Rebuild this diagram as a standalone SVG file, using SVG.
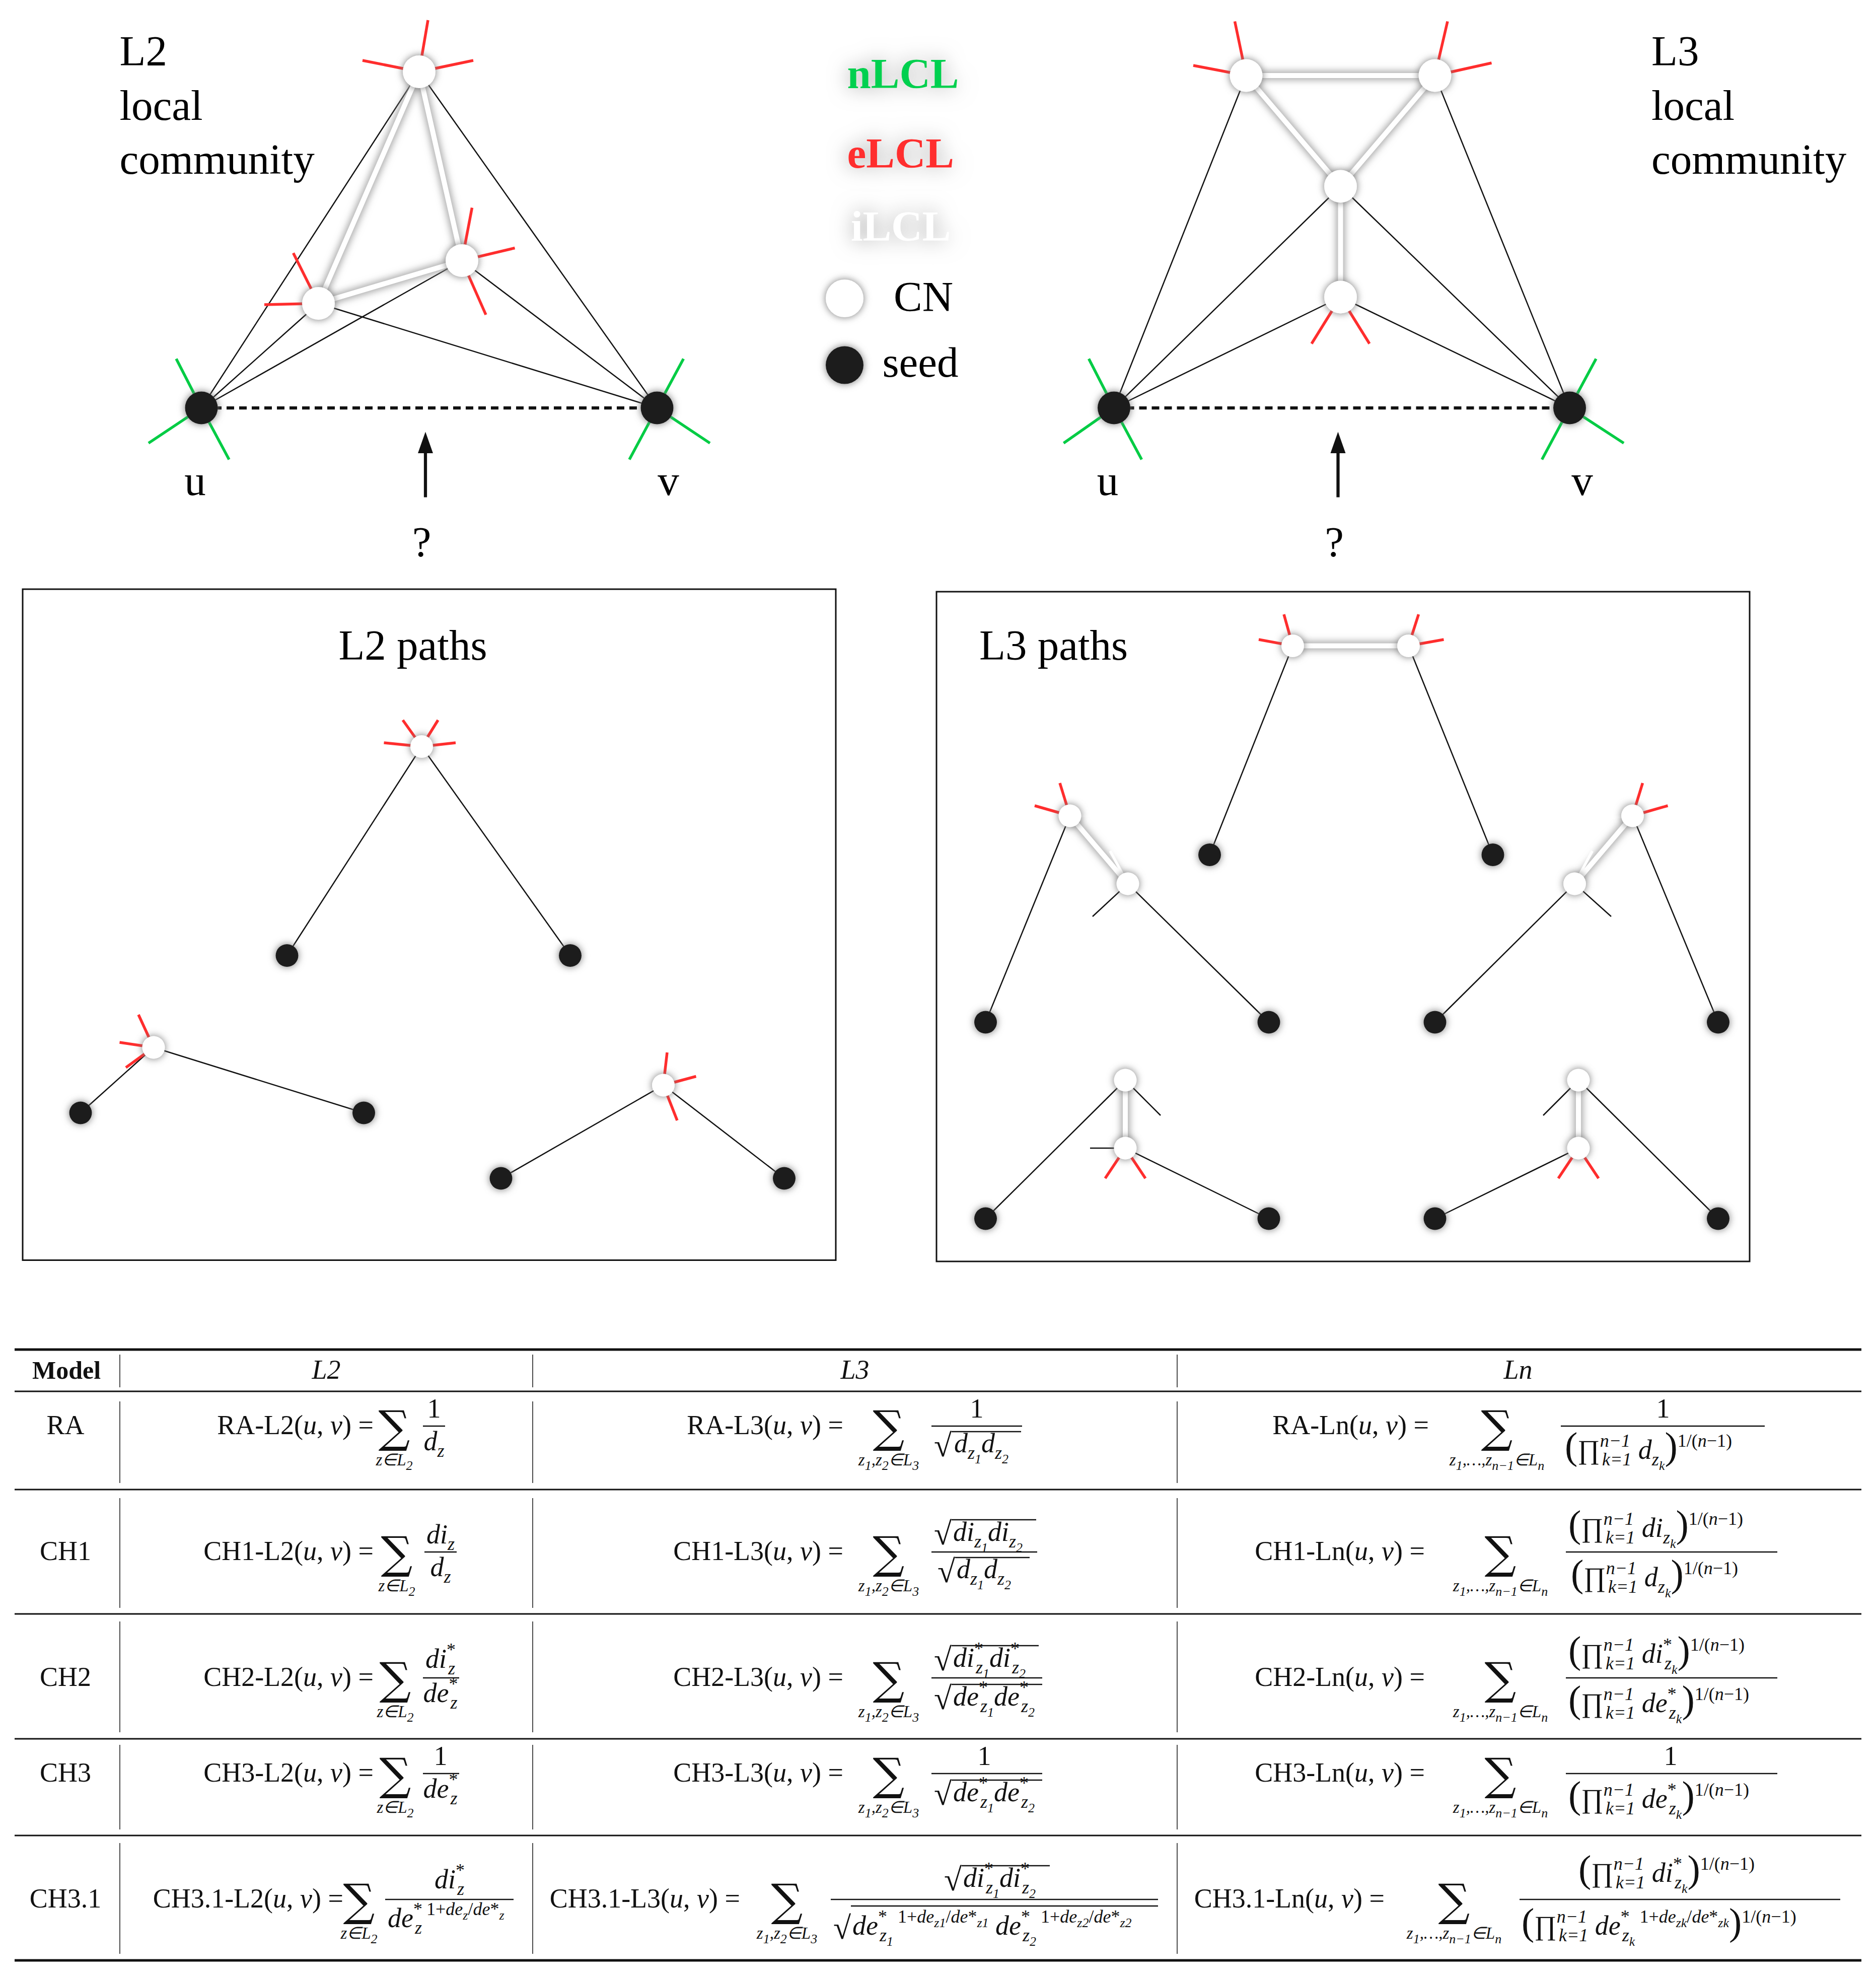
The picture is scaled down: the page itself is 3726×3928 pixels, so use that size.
<svg xmlns="http://www.w3.org/2000/svg" width="3726" height="3928" viewBox="0 0 3726 3928">
<style>
.lbl{font-family:"Liberation Serif",serif;font-size:34px;fill:#000}
.leg{font-family:"Liberation Serif",serif;font-size:34px;font-weight:bold}
.e{stroke:#111;stroke-width:1;fill:none}
.wg{stroke:#999;stroke-width:6;fill:none;filter:url(#blur)}
.w{stroke:#fff;stroke-width:4;fill:none}
.r{stroke:#ff2d2d;stroke-width:2.2}
.gr{stroke:#00cc44;stroke-width:2.2}
.wt{stroke:#fff;stroke-width:2.2}
.bt{stroke:#111;stroke-width:1}
.cn{fill:#fff;filter:url(#sh)}
.sd{fill:#1a1a1a;filter:url(#sh)}
.f{font-family:"Liberation Serif",serif;font-size:54px;fill:#111}
.c{text-anchor:middle}
.en{text-anchor:end}
.i{font-style:italic}
.sb{font-size:36px;baseline-shift:-13px}
.sp{font-size:36px;baseline-shift:24px}
.sb2{font-size:26px;baseline-shift:-9px}
.sum{font-family:"DejaVu Serif",serif;font-size:88px;text-anchor:middle}
.ss{font-family:"Liberation Serif",serif;font-size:33px;font-style:italic;text-anchor:middle}
.bar{stroke:#111;stroke-width:2.5}
.rule{stroke:#111;stroke-width:5}
.col{stroke:#111;stroke-width:1.5}
.par{font-size:76px}
</style>
<defs>
<filter id="blur" filterUnits="userSpaceOnUse" x="0" y="0" width="1500" height="1100"><feGaussianBlur stdDeviation="3"/></filter>
<filter id="sh" x="-50%" y="-50%" width="200%" height="200%"><feDropShadow dx="0" dy="0" stdDeviation="3" flood-color="#777"/></filter>
<filter id="tg" x="-30%" y="-80%" width="160%" height="260%"><feGaussianBlur in="SourceAlpha" stdDeviation="8" result="b"/><feFlood flood-color="#999"/><feComposite in2="b" operator="in" result="s"/><feMerge><feMergeNode in="s"/><feMergeNode in="SourceGraphic"/></feMerge></filter>
</defs>
<rect width="3726" height="3928" fill="#fff"/>
<g transform="scale(2.5)">
<g id="connectors">
<line class="e" x1="160" y1="324" x2="333" y2="57"/><line class="e" x1="160" y1="324" x2="253" y2="241"/><line class="e" x1="160" y1="324" x2="367" y2="207"/>
<line class="e" x1="522" y1="324" x2="333" y2="57"/><line class="e" x1="522" y1="324" x2="253" y2="241"/><line class="e" x1="522" y1="324" x2="367" y2="207"/>
<path class="wg" d="M333,57 L253,241 L367,207 Z"/><path class="w" d="M333,57 L253,241 L367,207 Z"/>
<line x1="160" y1="324" x2="522" y2="324" stroke="#111" stroke-width="2.5" stroke-dasharray="6,4"/>
<line x1="338" y1="395" x2="338" y2="355" stroke="#111" stroke-width="2.5"/><polygon points="332,360 338,343 344,360" fill="#111"/>
<line class="e" x1="885" y1="324" x2="990" y2="60"/><line class="e" x1="885" y1="324" x2="1065" y2="148"/><line class="e" x1="885" y1="324" x2="1065" y2="236"/>
<line class="e" x1="1247" y1="324" x2="1140" y2="60"/><line class="e" x1="1247" y1="324" x2="1065" y2="148"/><line class="e" x1="1247" y1="324" x2="1065" y2="236"/>
<path class="wg" d="M990,60 L1140,60 L1065,148 Z M1065,148 L1065,236"/><path class="w" d="M990,60 L1140,60 L1065,148 Z M1065,148 L1065,236"/>
<line x1="885" y1="324" x2="1247" y2="324" stroke="#111" stroke-width="2.5" stroke-dasharray="6,4"/>
<line x1="1063" y1="395" x2="1063" y2="355" stroke="#111" stroke-width="2.5"/><polygon points="1057,360 1063,343 1069,360" fill="#111"/>
<line class="e" x1="228" y1="759" x2="335" y2="593"/><line class="e" x1="453" y1="759" x2="335" y2="593"/>
<line class="e" x1="64" y1="884" x2="122" y2="832"/><line class="e" x1="289" y1="884" x2="122" y2="832"/>
<line class="e" x1="398" y1="936" x2="527" y2="862"/><line class="e" x1="623" y1="936" x2="527" y2="862"/>
<line class="e" x1="961" y1="679" x2="1027" y2="513"/><line class="e" x1="1186" y1="679" x2="1119" y2="513"/>
<path class="wg" d="M1027,513 L1119,513"/><path class="w" d="M1027,513 L1119,513"/>
<line class="e" x1="783" y1="812" x2="850" y2="648"/><line class="e" x1="1008" y1="812" x2="896" y2="702"/>
<path class="wg" d="M850,648 L896,702"/><path class="w" d="M850,648 L896,702"/>
<line class="e" x1="1365" y1="812" x2="1297" y2="648"/><line class="e" x1="1140" y1="812" x2="1251" y2="702"/>
<path class="wg" d="M1297,648 L1251,702"/><path class="w" d="M1297,648 L1251,702"/>
<line class="e" x1="783" y1="968" x2="894" y2="858"/><line class="e" x1="1008" y1="968" x2="894" y2="912"/>
<path class="wg" d="M894,858 L894,912"/><path class="w" d="M894,858 L894,912"/>
<line class="e" x1="1365" y1="968" x2="1254" y2="858"/><line class="e" x1="1140" y1="968" x2="1254" y2="912"/>
<path class="wg" d="M1254,858 L1254,912"/><path class="w" d="M1254,858 L1254,912"/>
</g>
<g id="ticks">
<line class="r" x1="333" y1="57" x2="340" y2="16"/><line class="r" x1="333" y1="57" x2="288" y2="48"/><line class="r" x1="333" y1="57" x2="376" y2="48"/>
<line class="r" x1="253" y1="241" x2="233" y2="201"/><line class="r" x1="253" y1="241" x2="210" y2="242"/>
<line class="r" x1="367" y1="207" x2="375" y2="165"/><line class="r" x1="367" y1="207" x2="409" y2="197"/><line class="r" x1="367" y1="207" x2="386" y2="250"/>
<line class="gr" x1="160" y1="324" x2="140" y2="285"/><line class="gr" x1="160" y1="324" x2="118" y2="352"/><line class="gr" x1="160" y1="324" x2="182" y2="365"/>
<line class="gr" x1="522" y1="324" x2="543" y2="285"/><line class="gr" x1="522" y1="324" x2="564" y2="352"/><line class="gr" x1="522" y1="324" x2="500" y2="365"/>
<line class="r" x1="990" y1="60" x2="981" y2="17"/><line class="r" x1="990" y1="60" x2="948" y2="52"/>
<line class="r" x1="1140" y1="60" x2="1150" y2="17"/><line class="r" x1="1140" y1="60" x2="1185" y2="50"/>
<line class="r" x1="1065" y1="236" x2="1042" y2="273"/><line class="r" x1="1065" y1="236" x2="1088" y2="273"/>
<line class="gr" x1="885" y1="324" x2="865" y2="285"/><line class="gr" x1="885" y1="324" x2="845" y2="352"/><line class="gr" x1="885" y1="324" x2="907" y2="365"/>
<line class="gr" x1="1247" y1="324" x2="1268" y2="285"/><line class="gr" x1="1247" y1="324" x2="1290" y2="352"/><line class="gr" x1="1247" y1="324" x2="1225" y2="365"/>
<line class="r" x1="335" y1="593" x2="320" y2="572"/><line class="r" x1="335" y1="593" x2="305" y2="590"/><line class="r" x1="335" y1="593" x2="348" y2="572"/><line class="r" x1="335" y1="593" x2="362" y2="590"/>
<line class="wt" x1="335" y1="593" x2="330" y2="622"/><line class="wt" x1="335" y1="593" x2="342" y2="622"/>
<line class="r" x1="122" y1="832" x2="95" y2="828"/><line class="r" x1="122" y1="832" x2="110" y2="806"/><line class="r" x1="122" y1="832" x2="100" y2="848"/>
<line class="wt" x1="122" y1="832" x2="130" y2="806"/><line class="wt" x1="122" y1="832" x2="150" y2="823"/>
<line class="r" x1="527" y1="862" x2="553" y2="855"/><line class="r" x1="527" y1="862" x2="538" y2="890"/><line class="r" x1="527" y1="862" x2="530" y2="836"/>
<line class="wt" x1="527" y1="862" x2="510" y2="830"/><line class="wt" x1="527" y1="862" x2="500" y2="855"/>
<line class="r" x1="1027" y1="513" x2="1020" y2="488"/><line class="r" x1="1027" y1="513" x2="1000" y2="508"/><line class="wt" x1="1027" y1="513" x2="1050" y2="540"/>
<line class="r" x1="1119" y1="513" x2="1127" y2="488"/><line class="r" x1="1119" y1="513" x2="1147" y2="508"/><line class="wt" x1="1119" y1="513" x2="1097" y2="540"/>
<line class="r" x1="850" y1="648" x2="842" y2="622"/><line class="r" x1="850" y1="648" x2="822" y2="640"/><line class="wt" x1="850" y1="648" x2="876" y2="648"/>
<line class="wt" x1="896" y1="702" x2="920" y2="678"/><line class="bt" x1="896" y1="702" x2="868" y2="728"/><line class="wt" x1="896" y1="702" x2="882" y2="676"/>
<line class="r" x1="1297" y1="648" x2="1305" y2="622"/><line class="r" x1="1297" y1="648" x2="1325" y2="640"/><line class="wt" x1="1297" y1="648" x2="1272" y2="650"/>
<line class="wt" x1="1251" y1="702" x2="1228" y2="678"/><line class="bt" x1="1251" y1="702" x2="1280" y2="728"/><line class="wt" x1="1251" y1="702" x2="1265" y2="676"/>
<line class="wt" x1="894" y1="858" x2="875" y2="832"/><line class="wt" x1="894" y1="858" x2="915" y2="832"/><line class="bt" x1="894" y1="858" x2="922" y2="886"/>
<line class="r" x1="894" y1="912" x2="878" y2="936"/><line class="r" x1="894" y1="912" x2="910" y2="936"/><line class="bt" x1="894" y1="912" x2="866" y2="912"/>
<line class="wt" x1="1254" y1="858" x2="1235" y2="832"/><line class="wt" x1="1254" y1="858" x2="1275" y2="832"/><line class="bt" x1="1254" y1="858" x2="1226" y2="886"/>
<line class="r" x1="1254" y1="912" x2="1238" y2="936"/><line class="r" x1="1254" y1="912" x2="1270" y2="936"/>
</g>
<g id="nodes-l2">
<circle id="l2-top" class="cn" cx="333" cy="57" r="13"/><circle id="l2-a" class="cn" cx="253" cy="241" r="13"/><circle id="l2-b" class="cn" cx="367" cy="207" r="13"/>
<circle id="l2-u" class="sd" cx="160" cy="324" r="13"/><circle id="l2-v" class="sd" cx="522" cy="324" r="13"/>
</g>
<g id="nodes-l3">
<circle class="cn" cx="990" cy="60" r="13"/><circle class="cn" cx="1140" cy="60" r="13"/><circle class="cn" cx="1065" cy="148" r="13"/><circle class="cn" cx="1065" cy="236" r="13"/>
<circle class="sd" cx="885" cy="324" r="13"/><circle class="sd" cx="1247" cy="324" r="13"/>
</g>
<g id="l2paths">
<rect x="18" y="468" width="646" height="533" fill="none" stroke="#111" stroke-width="1.2"/>
<text class="lbl c" x="328" y="524">L2 paths</text>
<circle class="cn" cx="335" cy="593" r="9"/><circle class="sd" cx="228" cy="759" r="9"/><circle class="sd" cx="453" cy="759" r="9"/>
<circle class="cn" cx="122" cy="832" r="9"/><circle class="sd" cx="64" cy="884" r="9"/><circle class="sd" cx="289" cy="884" r="9"/>
<circle class="cn" cx="527" cy="862" r="9"/><circle class="sd" cx="398" cy="936" r="9"/><circle class="sd" cx="623" cy="936" r="9"/>
</g>
<g id="l3paths">
<rect x="744" y="470" width="646" height="532" fill="none" stroke="#111" stroke-width="1.2"/>
<text class="lbl" x="778" y="524">L3 paths</text>
<circle class="cn" cx="1027" cy="513" r="9"/><circle class="cn" cx="1119" cy="513" r="9"/><circle class="sd" cx="961" cy="679" r="9"/><circle class="sd" cx="1186" cy="679" r="9"/>
<circle class="cn" cx="850" cy="648" r="9"/><circle class="cn" cx="896" cy="702" r="9"/><circle class="sd" cx="783" cy="812" r="9"/><circle class="sd" cx="1008" cy="812" r="9"/>
<circle class="cn" cx="1297" cy="648" r="9"/><circle class="cn" cx="1251" cy="702" r="9"/><circle class="sd" cx="1365" cy="812" r="9"/><circle class="sd" cx="1140" cy="812" r="9"/>
<circle class="cn" cx="894" cy="858" r="9"/><circle class="cn" cx="894" cy="912" r="9"/><circle class="sd" cx="783" cy="968" r="9"/><circle class="sd" cx="1008" cy="968" r="9"/>
<circle class="cn" cx="1254" cy="858" r="9"/><circle class="cn" cx="1254" cy="912" r="9"/><circle class="sd" cx="1365" cy="968" r="9"/><circle class="sd" cx="1140" cy="968" r="9"/>
</g>
<g id="labels">
<text class="lbl" x="95" y="52">L2</text><text class="lbl" x="95" y="95">local</text><text class="lbl" x="95" y="138">community</text>
<text class="lbl" x="1312" y="52">L3</text><text class="lbl" x="1312" y="95">local</text><text class="lbl" x="1312" y="138">community</text>
<text class="lbl c" x="155" y="393">u</text><text class="lbl c" x="531" y="393">v</text><text class="lbl c" x="335" y="442">?</text>
<text class="lbl c" x="880" y="393">u</text><text class="lbl c" x="1257" y="393">v</text><text class="lbl c" x="1060" y="442">?</text>
</g>
<g id="legend">
<text class="leg" x="673" y="70" fill="#00d050" filter="url(#tg)">nLCL</text>
<text class="leg" x="673" y="133" fill="#ff2d2d" filter="url(#tg)">eLCL</text>
<text class="leg" x="676" y="191" fill="#fff" filter="url(#tg)">iLCL</text>
<circle class="cn" cx="671" cy="237" r="15"/><text class="lbl" x="710" y="247">CN</text>
<circle class="sd" cx="671" cy="290" r="15"/><text class="lbl" x="701" y="299">seed</text>
</g>
</g>
<g id="table" class="f">
<line class="rule" x1="29" y1="2680" x2="3697" y2="2680"/>
<line class="rule" x1="29" y1="2763" x2="3697" y2="2763" style="stroke-width:3"/>
<line class="rule" x1="29" y1="2958" x2="3697" y2="2958" style="stroke-width:3"/>
<line class="rule" x1="29" y1="3205" x2="3697" y2="3205" style="stroke-width:3"/>
<line class="rule" x1="29" y1="3453" x2="3697" y2="3453" style="stroke-width:3"/>
<line class="rule" x1="29" y1="3645" x2="3697" y2="3645" style="stroke-width:3"/>
<line class="rule" x1="29" y1="3893" x2="3697" y2="3893"/>
<g class="col">
<line x1="238" y1="2690" x2="238" y2="2755"/><line x1="1058" y1="2690" x2="1058" y2="2755"/><line x1="2338" y1="2690" x2="2338" y2="2755"/>
<line x1="238" y1="2783" x2="238" y2="2945"/><line x1="1058" y1="2783" x2="1058" y2="2945"/><line x1="2338" y1="2783" x2="2338" y2="2945"/>
<line x1="238" y1="2975" x2="238" y2="3193"/><line x1="1058" y1="2975" x2="1058" y2="3193"/><line x1="2338" y1="2975" x2="2338" y2="3193"/>
<line x1="238" y1="3220" x2="238" y2="3440"/><line x1="1058" y1="3220" x2="1058" y2="3440"/><line x1="2338" y1="3220" x2="2338" y2="3440"/>
<line x1="238" y1="3465" x2="238" y2="3633"/><line x1="1058" y1="3465" x2="1058" y2="3633"/><line x1="2338" y1="3465" x2="2338" y2="3633"/>
<line x1="238" y1="3660" x2="238" y2="3880"/><line x1="1058" y1="3660" x2="1058" y2="3880"/><line x1="2338" y1="3660" x2="2338" y2="3880"/>
</g>
<text class="c" x="132" y="2738" font-weight="bold" font-size="50">Model</text>
<text class="c i" x="648" y="2738">L2</text><text class="c i" x="1698" y="2738">L3</text><text class="c i" x="3015" y="2738">Ln</text>
<!-- RA -->
<text class="c" x="130" y="2848">RA</text>
<text class="en" x="742" y="2848">RA-L2(<tspan class="i">u</tspan>, <tspan class="i">v</tspan>) =</text>
<text class="sum" x="783" y="2864">∑</text><text class="ss" x="783" y="2910">z∈L<tspan class="sb2">2</tspan></text>
<text class="c" x="862" y="2815">1</text><line class="bar" x1="840" y1="2832" x2="884" y2="2832"/><text class="c" x="862" y="2880"><tspan class="i">d</tspan><tspan class="sb i">z</tspan></text>
<text class="en" x="1675" y="2848">RA-L3(<tspan class="i">u</tspan>, <tspan class="i">v</tspan>) =</text>
<text class="sum" x="1765" y="2864">∑</text><text class="ss" x="1765" y="2910">z<tspan class="sb2">1</tspan>,z<tspan class="sb2">2</tspan>∈L<tspan class="sb2">3</tspan></text>
<text class="c" x="1940" y="2815">1</text><line class="bar" x1="1850" y1="2832" x2="2030" y2="2832"/>
<text x="1855" y="2892" font-size="64">√</text><line class="bar" x1="1890" y1="2843" x2="2028" y2="2843"/>
<text x="1895" y="2884"><tspan class="i">d</tspan><tspan class="sb i">z<tspan class="sb2">1</tspan></tspan><tspan class="i">d</tspan><tspan class="sb i">z<tspan class="sb2">2</tspan></tspan></text>
<text class="en" x="2838" y="2848">RA-Ln(<tspan class="i">u</tspan>, <tspan class="i">v</tspan>) =</text>
<text class="sum" x="2973" y="2864">∑</text><text class="ss" x="2973" y="2910">z<tspan class="sb2">1</tspan>,…,z<tspan class="sb2">n−1</tspan>∈L<tspan class="sb2">n</tspan></text>
<text class="c" x="3303" y="2815">1</text><line class="bar" x1="3100" y1="2832" x2="3505" y2="2832"/>
<text x="3108" y="2897"><tspan class="par">(</tspan>∏<tspan class="sp i">n−1</tspan><tspan class="sb i" dx="-56">k=1</tspan> <tspan class="i">d</tspan><tspan class="sb i">z<tspan class="sb2">k</tspan></tspan><tspan class="par">)</tspan><tspan class="sp">1/(<tspan class="i">n</tspan>−1)</tspan></text>
<!-- CH1 -->
<text class="c" x="130" y="3098">CH1</text>
<text class="en" x="742" y="3098">CH1-L2(<tspan class="i">u</tspan>, <tspan class="i">v</tspan>) =</text>
<text class="sum" x="788" y="3114">∑</text><text class="ss" x="788" y="3160">z∈L<tspan class="sb2">2</tspan></text>
<text class="c" x="875" y="3065"><tspan class="i">di</tspan><tspan class="sb i">z</tspan></text><line class="bar" x1="843" y1="3082" x2="907" y2="3082"/><text class="c" x="875" y="3130"><tspan class="i">d</tspan><tspan class="sb i">z</tspan></text>
<text class="en" x="1675" y="3098">CH1-L3(<tspan class="i">u</tspan>, <tspan class="i">v</tspan>) =</text>
<text class="sum" x="1765" y="3114">∑</text><text class="ss" x="1765" y="3160">z<tspan class="sb2">1</tspan>,z<tspan class="sb2">2</tspan>∈L<tspan class="sb2">3</tspan></text>
<line class="bar" x1="1850" y1="3082" x2="2060" y2="3082"/>
<text x="1855" y="3067" font-size="64">√</text><line class="bar" x1="1890" y1="3018" x2="2058" y2="3018"/>
<text x="1893" y="3060"><tspan class="i">di</tspan><tspan class="sb i">z<tspan class="sb2">1</tspan></tspan><tspan class="i">di</tspan><tspan class="sb i">z<tspan class="sb2">2</tspan></tspan></text>
<text x="1862" y="3142" font-size="64">√</text><line class="bar" x1="1897" y1="3093" x2="2045" y2="3093"/>
<text x="1900" y="3134"><tspan class="i">d</tspan><tspan class="sb i">z<tspan class="sb2">1</tspan></tspan><tspan class="i">d</tspan><tspan class="sb i">z<tspan class="sb2">2</tspan></tspan></text>
<text class="en" x="2830" y="3098">CH1-Ln(<tspan class="i">u</tspan>, <tspan class="i">v</tspan>) =</text>
<text class="sum" x="2980" y="3114">∑</text><text class="ss" x="2980" y="3160">z<tspan class="sb2">1</tspan>,…,z<tspan class="sb2">n−1</tspan>∈L<tspan class="sb2">n</tspan></text>
<line class="bar" x1="3110" y1="3082" x2="3530" y2="3082"/>
<text x="3115" y="3052"><tspan class="par">(</tspan>∏<tspan class="sp i">n−1</tspan><tspan class="sb i" dx="-56">k=1</tspan> <tspan class="i">di</tspan><tspan class="sb i">z<tspan class="sb2">k</tspan></tspan><tspan class="par">)</tspan><tspan class="sp">1/(<tspan class="i">n</tspan>−1)</tspan></text>
<text x="3120" y="3150"><tspan class="par">(</tspan>∏<tspan class="sp i">n−1</tspan><tspan class="sb i" dx="-56">k=1</tspan> <tspan class="i">d</tspan><tspan class="sb i">z<tspan class="sb2">k</tspan></tspan><tspan class="par">)</tspan><tspan class="sp">1/(<tspan class="i">n</tspan>−1)</tspan></text>
<!-- CH2 -->
<text class="c" x="130" y="3348">CH2</text>
<text class="en" x="742" y="3348">CH2-L2(<tspan class="i">u</tspan>, <tspan class="i">v</tspan>) =</text>
<text class="sum" x="785" y="3364">∑</text><text class="ss" x="785" y="3410">z∈L<tspan class="sb2">2</tspan></text>
<text class="c" x="875" y="3312"><tspan class="i">di</tspan><tspan class="sp">*</tspan><tspan class="sb i" dx="-15">z</tspan></text><line class="bar" x1="840" y1="3332" x2="912" y2="3332"/><text class="c" x="875" y="3380"><tspan class="i">de</tspan><tspan class="sp">*</tspan><tspan class="sb i" dx="-15">z</tspan></text>
<text class="en" x="1675" y="3348">CH2-L3(<tspan class="i">u</tspan>, <tspan class="i">v</tspan>) =</text>
<text class="sum" x="1765" y="3364">∑</text><text class="ss" x="1765" y="3410">z<tspan class="sb2">1</tspan>,z<tspan class="sb2">2</tspan>∈L<tspan class="sb2">3</tspan></text>
<line class="bar" x1="1850" y1="3332" x2="2070" y2="3332"/>
<text x="1855" y="3317" font-size="64">√</text><line class="bar" x1="1890" y1="3268" x2="2063" y2="3268"/>
<text x="1893" y="3310"><tspan class="i">di</tspan><tspan class="sp">*</tspan><tspan class="sb i" dx="-15">z<tspan class="sb2">1</tspan></tspan><tspan class="i">di</tspan><tspan class="sp">*</tspan><tspan class="sb i" dx="-15">z<tspan class="sb2">2</tspan></tspan></text>
<text x="1855" y="3394" font-size="64">√</text><line class="bar" x1="1890" y1="3345" x2="2070" y2="3345"/>
<text x="1893" y="3387"><tspan class="i">de</tspan><tspan class="sp">*</tspan><tspan class="sb i" dx="-15">z<tspan class="sb2">1</tspan></tspan><tspan class="i">de</tspan><tspan class="sp">*</tspan><tspan class="sb i" dx="-15">z<tspan class="sb2">2</tspan></tspan></text>
<text class="en" x="2830" y="3348">CH2-Ln(<tspan class="i">u</tspan>, <tspan class="i">v</tspan>) =</text>
<text class="sum" x="2980" y="3364">∑</text><text class="ss" x="2980" y="3410">z<tspan class="sb2">1</tspan>,…,z<tspan class="sb2">n−1</tspan>∈L<tspan class="sb2">n</tspan></text>
<line class="bar" x1="3110" y1="3332" x2="3530" y2="3332"/>
<text x="3115" y="3302"><tspan class="par">(</tspan>∏<tspan class="sp i">n−1</tspan><tspan class="sb i" dx="-56">k=1</tspan> <tspan class="i">di</tspan><tspan class="sp">*</tspan><tspan class="sb i" dx="-15">z<tspan class="sb2">k</tspan></tspan><tspan class="par">)</tspan><tspan class="sp">1/(<tspan class="i">n</tspan>−1)</tspan></text>
<text x="3115" y="3400"><tspan class="par">(</tspan>∏<tspan class="sp i">n−1</tspan><tspan class="sb i" dx="-56">k=1</tspan> <tspan class="i">de</tspan><tspan class="sp">*</tspan><tspan class="sb i" dx="-15">z<tspan class="sb2">k</tspan></tspan><tspan class="par">)</tspan><tspan class="sp">1/(<tspan class="i">n</tspan>−1)</tspan></text>
<!-- CH3 -->
<text class="c" x="130" y="3538">CH3</text>
<text class="en" x="742" y="3538">CH3-L2(<tspan class="i">u</tspan>, <tspan class="i">v</tspan>) =</text>
<text class="sum" x="785" y="3554">∑</text><text class="ss" x="785" y="3600">z∈L<tspan class="sb2">2</tspan></text>
<text class="c" x="875" y="3505">1</text><line class="bar" x1="840" y1="3522" x2="912" y2="3522"/><text class="c" x="875" y="3570"><tspan class="i">de</tspan><tspan class="sp">*</tspan><tspan class="sb i" dx="-15">z</tspan></text>
<text class="en" x="1675" y="3538">CH3-L3(<tspan class="i">u</tspan>, <tspan class="i">v</tspan>) =</text>
<text class="sum" x="1765" y="3554">∑</text><text class="ss" x="1765" y="3600">z<tspan class="sb2">1</tspan>,z<tspan class="sb2">2</tspan>∈L<tspan class="sb2">3</tspan></text>
<text class="c" x="1955" y="3505">1</text><line class="bar" x1="1850" y1="3522" x2="2070" y2="3522"/>
<text x="1855" y="3584" font-size="64">√</text><line class="bar" x1="1890" y1="3535" x2="2070" y2="3535"/>
<text x="1893" y="3577"><tspan class="i">de</tspan><tspan class="sp">*</tspan><tspan class="sb i" dx="-15">z<tspan class="sb2">1</tspan></tspan><tspan class="i">de</tspan><tspan class="sp">*</tspan><tspan class="sb i" dx="-15">z<tspan class="sb2">2</tspan></tspan></text>
<text class="en" x="2830" y="3538">CH3-Ln(<tspan class="i">u</tspan>, <tspan class="i">v</tspan>) =</text>
<text class="sum" x="2980" y="3554">∑</text><text class="ss" x="2980" y="3600">z<tspan class="sb2">1</tspan>,…,z<tspan class="sb2">n−1</tspan>∈L<tspan class="sb2">n</tspan></text>
<text class="c" x="3318" y="3505">1</text><line class="bar" x1="3110" y1="3522" x2="3530" y2="3522"/>
<text x="3115" y="3590"><tspan class="par">(</tspan>∏<tspan class="sp i">n−1</tspan><tspan class="sb i" dx="-56">k=1</tspan> <tspan class="i">de</tspan><tspan class="sp">*</tspan><tspan class="sb i" dx="-15">z<tspan class="sb2">k</tspan></tspan><tspan class="par">)</tspan><tspan class="sp">1/(<tspan class="i">n</tspan>−1)</tspan></text>
<!-- CH3.1 -->
<text class="c" x="130" y="3788">CH3.1</text>
<text class="en" x="682" y="3788">CH3.1-L2(<tspan class="i">u</tspan>, <tspan class="i">v</tspan>) =</text>
<text class="sum" x="713" y="3804">∑</text><text class="ss" x="713" y="3850">z∈L<tspan class="sb2">2</tspan></text>
<text class="c" x="893" y="3750"><tspan class="i">di</tspan><tspan class="sp">*</tspan><tspan class="sb i" dx="-15">z</tspan></text><line class="bar" x1="765" y1="3772" x2="1020" y2="3772"/>
<text x="770" y="3827"><tspan class="i">de</tspan><tspan class="sp">*</tspan><tspan class="sb i" dx="-15">z</tspan><tspan class="sp"> 1+<tspan class="i">de</tspan><tspan class="sb2 i">z</tspan>/<tspan class="i">de</tspan>*<tspan class="sb2 i">z</tspan></tspan></text>
<text class="en" x="1470" y="3788">CH3.1-L3(<tspan class="i">u</tspan>, <tspan class="i">v</tspan>) =</text>
<text class="sum" x="1563" y="3804">∑</text><text class="ss" x="1563" y="3850">z<tspan class="sb2">1</tspan>,z<tspan class="sb2">2</tspan>∈L<tspan class="sb2">3</tspan></text>
<line class="bar" x1="1650" y1="3772" x2="2300" y2="3772"/>
<text x="1875" y="3754" font-size="64">√</text><line class="bar" x1="1910" y1="3705" x2="2085" y2="3705"/>
<text x="1913" y="3747"><tspan class="i">di</tspan><tspan class="sp">*</tspan><tspan class="sb i" dx="-15">z<tspan class="sb2">1</tspan></tspan><tspan class="i">di</tspan><tspan class="sp">*</tspan><tspan class="sb i" dx="-15">z<tspan class="sb2">2</tspan></tspan></text>
<text x="1655" y="3850" font-size="64">√</text><line class="bar" x1="1690" y1="3785" x2="2300" y2="3785"/>
<text x="1693" y="3842"><tspan class="i">de</tspan><tspan class="sp">*</tspan><tspan class="sb i" dx="-15">z<tspan class="sb2">1</tspan></tspan><tspan class="sp"> 1+<tspan class="i">de</tspan><tspan class="sb2 i">z1</tspan>/<tspan class="i">de</tspan>*<tspan class="sb2 i">z1</tspan></tspan> <tspan class="i">de</tspan><tspan class="sp">*</tspan><tspan class="sb i" dx="-15">z<tspan class="sb2">2</tspan></tspan><tspan class="sp"> 1+<tspan class="i">de</tspan><tspan class="sb2 i">z2</tspan>/<tspan class="i">de</tspan>*<tspan class="sb2 i">z2</tspan></tspan></text>
<text class="en" x="2750" y="3788">CH3.1-Ln(<tspan class="i">u</tspan>, <tspan class="i">v</tspan>) =</text>
<text class="sum" x="2888" y="3804">∑</text><text class="ss" x="2888" y="3850">z<tspan class="sb2">1</tspan>,…,z<tspan class="sb2">n−1</tspan>∈L<tspan class="sb2">n</tspan></text>
<line class="bar" x1="3018" y1="3772" x2="3655" y2="3772"/>
<text x="3135" y="3737"><tspan class="par">(</tspan>∏<tspan class="sp i">n−1</tspan><tspan class="sb i" dx="-56">k=1</tspan> <tspan class="i">di</tspan><tspan class="sp">*</tspan><tspan class="sb i" dx="-15">z<tspan class="sb2">k</tspan></tspan><tspan class="par">)</tspan><tspan class="sp">1/(<tspan class="i">n</tspan>−1)</tspan></text>
<text x="3022" y="3842"><tspan class="par">(</tspan>∏<tspan class="sp i">n−1</tspan><tspan class="sb i" dx="-56">k=1</tspan> <tspan class="i">de</tspan><tspan class="sp">*</tspan><tspan class="sb i" dx="-15">z<tspan class="sb2">k</tspan></tspan><tspan class="sp"> 1+<tspan class="i">de</tspan><tspan class="sb2 i">zk</tspan>/<tspan class="i">de</tspan>*<tspan class="sb2 i">zk</tspan></tspan><tspan class="par">)</tspan><tspan class="sp">1/(<tspan class="i">n</tspan>−1)</tspan></text>
</g>
</svg>
